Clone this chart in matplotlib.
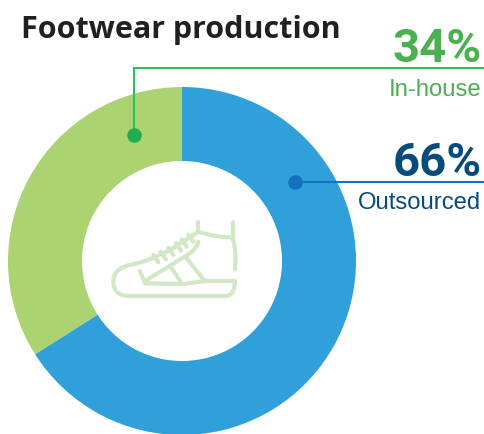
import matplotlib
matplotlib.use("Agg")
import matplotlib.pyplot as plt
from matplotlib.path import Path
from matplotlib.patches import PathPatch

title = "Footwear production"
categories = ["Outsourced", "In-house"]
values = [66, 34]
colors = ["#30A0DA", "#ABD372"]

W, H = 484, 434
fig = plt.figure(figsize=(W / 100, H / 100), dpi=100)
ax = fig.add_axes([0, 0, 1, 1])

def Y(y):
    return H - y

ax.pie(values, colors=colors, center=(182, Y(261)), radius=174, startangle=90,
       counterclock=False, wedgeprops=dict(width=74, linewidth=0), frame=True)
ax.set_xlim(0, W)
ax.set_ylim(0, H)
ax.set_aspect("equal")
ax.axis("off")

# Leader lines
ax.plot([134, 134, 484], [Y(135), Y(68), Y(68)], color="#2DBE60", lw=1.5, solid_joinstyle="miter")
ax.plot([134], [Y(135)], "o", color="#1FAE50", ms=10.5, mew=0)
ax.plot([295, 484], [Y(181.5), Y(181.5)], color="#1273BC", lw=1.5)
ax.plot([295], [Y(181.5)], "o", color="#1273BC", ms=10.5, mew=0)

# Text
ax.text(21, Y(38), title, fontsize=22, fontweight="bold", family="Open Sans",
        color="#231F20", ha="left", va="baseline")
ax.text(482, Y(62), f"{values[1]}%", fontsize=34, fontweight="bold", family="Roboto",
        color="#4CAF50", ha="right", va="baseline")
ax.text(481, Y(96), categories[1], fontsize=17.2, family="Liberation Sans",
        color="#4CAF50", ha="right", va="baseline")
ax.text(482, Y(175.5), f"{values[0]}%", fontsize=34, fontweight="bold", family="Roboto",
        color="#064B7C", ha="right", va="baseline")
ax.text(481, Y(209), categories[0], fontsize=17.2, family="Liberation Sans",
        color="#064B7C", ha="right", va="baseline")

# Shoe icon
def shoe(pts, codes=None):
    xy = [(90 + x / 3, Y(200 + y / 3)) for x, y in pts]
    if codes is None:
        codes = [Path.MOVETO] + [Path.LINETO] * (len(pts) - 1)
    ax.add_patch(PathPatch(Path(xy, codes), fill=False, ec="#D2E7C6", lw=3.0,
                           capstyle="round", joinstyle="round"))

M, L, C = Path.MOVETO, Path.LINETO, Path.CURVE3
shoe([(325, 65), (325, 95)])
shoe([(325, 95), (375, 112), (430, 112)], [M, C, C])
shoe([(428, 65), (428, 115)])
shoe([(428, 115), (440, 150), (435, 208)], [M, C, C])
shoe([(325, 95), (240, 150), (185, 175), (150, 190), (120, 195), (70, 205), (70, 245),
      (70, 288), (120, 288), (405, 288), (435, 288), (435, 243), (345, 243), (280, 252),
      (165, 250), (150, 213)],
     [M, L, L, C, C, C, C, C, C, L, C, C, L, L, L, L])
shoe([(325, 125), (320, 145), (300, 160), (165, 243)], [M, C, C, L])
shoe([(290, 175), (342, 240)])
shoe([(245, 205), (272, 245)])
for a, b in [((190, 165), (205, 187)), ((212, 155), (228, 178)), ((235, 143), (250, 165)),
             ((258, 130), (273, 152)), ((275, 118), (290, 140)), ((295, 105), (310, 125))]:
    shoe([a, b])

fig.savefig("out.png", dpi=100)
